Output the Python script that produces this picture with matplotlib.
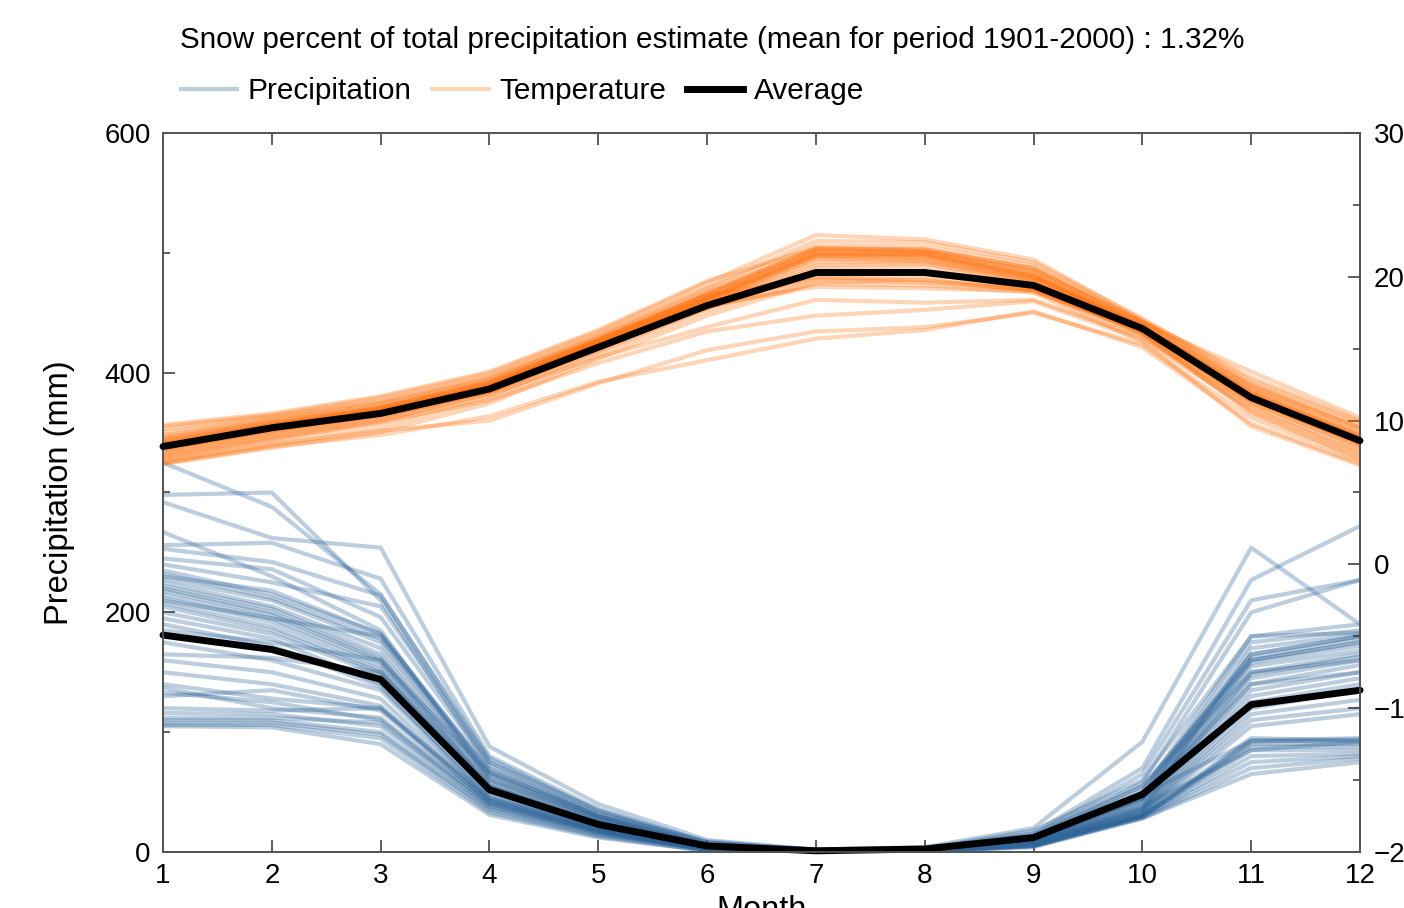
import matplotlib
matplotlib.use('Agg')
import matplotlib.pyplot as plt
from matplotlib.lines import Line2D
from matplotlib.ticker import MultipleLocator

plt.rcParams['font.family'] = ['Liberation Sans', 'DejaVu Sans']

months = list(range(1, 13))

# precipitation (mm) por año, meses 1-12
precip_years = [
    [325, 288, 215, 75, 35, 8, 2, 3, 18, 60, 180, 190],
    [298, 300, 210, 70, 32, 9, 1, 2, 15, 55, 160, 175],
    [292, 262, 254, 88, 40, 10, 2, 4, 20, 92, 254, 190],
    [267, 230, 185, 60, 28, 6, 1, 2, 12, 45, 140, 150],
    [256, 258, 228, 80, 36, 8, 2, 3, 16, 70, 227, 272],
    [253, 242, 214, 78, 34, 7, 1, 3, 14, 65, 210, 227],
    [245, 236, 196, 72, 30, 6, 1, 2, 13, 58, 200, 227],
    [235, 215, 182, 66, 30, 5, 1, 2, 12, 50, 180, 183],
    [232, 212, 178, 64, 28, 5, 1, 2, 11, 48, 165, 180],
    [228, 210, 175, 62, 27, 5, 1, 2, 11, 47, 162, 178],
    [225, 205, 170, 60, 26, 4, 0, 1, 10, 45, 160, 175],
    [222, 203, 165, 58, 25, 4, 0, 1, 10, 44, 158, 172],
    [220, 200, 162, 56, 24, 4, 0, 1, 9, 42, 155, 168],
    [218, 198, 160, 55, 24, 4, 0, 1, 9, 42, 150, 165],
    [215, 195, 158, 54, 23, 3, 0, 1, 9, 40, 148, 163],
    [212, 192, 155, 52, 22, 3, 0, 1, 8, 38, 145, 160],
    [208, 188, 152, 50, 22, 3, 0, 1, 8, 37, 140, 156],
    [205, 185, 150, 50, 21, 3, 0, 1, 8, 36, 135, 150],
    [200, 182, 148, 48, 20, 3, 0, 1, 8, 35, 130, 145],
    [195, 178, 140, 46, 20, 3, 0, 1, 7, 34, 125, 140],
    [190, 172, 138, 45, 19, 2, 0, 1, 7, 33, 120, 135],
    [175, 160, 135, 44, 19, 2, 0, 1, 7, 33, 115, 127],
    [160, 150, 128, 43, 18, 2, 0, 1, 7, 32, 110, 120],
    [150, 140, 122, 42, 18, 2, 0, 1, 6, 31, 105, 115],
    [137, 120, 112, 40, 17, 2, 0, 1, 6, 31, 95, 93],
    [133, 125, 110, 40, 17, 2, 0, 1, 6, 30, 93, 92],
    [130, 135, 118, 42, 18, 2, 0, 1, 6, 30, 92, 94],
    [120, 118, 120, 41, 17, 2, 0, 1, 6, 30, 90, 90],
    [116, 115, 105, 38, 16, 2, 0, 1, 5, 30, 88, 88],
    [112, 112, 108, 38, 16, 2, 0, 1, 5, 30, 85, 85],
    [110, 110, 100, 36, 15, 2, 0, 0, 5, 29, 80, 82],
    [108, 108, 98, 35, 14, 1, 0, 0, 5, 29, 75, 80],
    [106, 106, 95, 33, 13, 1, 0, 0, 5, 28, 70, 78],
    [105, 104, 90, 31, 12, 1, 0, 0, 4, 28, 65, 75],
    [140, 128, 120, 45, 20, 3, 0, 1, 7, 35, 170, 182],
    [185, 175, 160, 65, 28, 5, 1, 2, 10, 45, 175, 185],
    [230, 218, 182, 68, 30, 6, 1, 2, 12, 52, 165, 180],
    [240, 225, 205, 75, 32, 7, 1, 3, 13, 55, 150, 160],
    [210, 195, 180, 67, 30, 5, 1, 2, 12, 48, 93, 95],
    [165, 162, 150, 55, 24, 4, 0, 1, 9, 38, 85, 92],
]

# temperatura (C) por año, meses 1-12
temp_years = [
    [9.6, 10.4, 11.6, 13.3, 16.2, 19.6, 22.9, 22.6, 21.2, 17.0, 13.0, 10.0],
    [9.2, 10.2, 11.3, 13.0, 15.9, 19.2, 22.2, 22.1, 20.8, 16.9, 12.6, 9.7],
    [8.9, 10.0, 11.1, 12.8, 15.8, 19.0, 21.9, 21.8, 20.5, 16.8, 12.4, 9.5],
    [8.7, 9.9, 10.9, 12.6, 15.6, 18.8, 21.8, 21.7, 20.3, 16.6, 12.2, 9.2],
    [8.5, 9.7, 10.8, 12.5, 15.5, 18.6, 21.6, 21.5, 20.1, 16.5, 12.0, 9.0],
    [8.4, 9.6, 10.7, 12.4, 15.4, 18.5, 21.5, 21.4, 20.0, 16.6, 11.9, 8.9],
    [8.2, 9.5, 10.6, 12.3, 15.3, 18.4, 21.4, 21.3, 19.9, 16.4, 11.8, 8.8],
    [8.0, 9.4, 10.5, 12.2, 15.2, 18.3, 21.3, 21.2, 19.8, 16.5, 11.7, 8.6],
    [7.9, 9.2, 10.4, 12.1, 15.1, 18.2, 21.0, 21.0, 19.7, 16.3, 11.6, 8.5],
    [7.7, 9.0, 10.2, 12.0, 15.0, 18.1, 20.8, 20.9, 19.6, 16.4, 11.5, 8.3],
    [7.5, 8.8, 10.0, 11.9, 14.9, 18.0, 20.6, 20.7, 19.5, 16.2, 11.3, 8.1],
    [7.3, 8.6, 9.8, 11.7, 14.8, 17.8, 20.2, 20.4, 19.3, 16.1, 11.1, 7.9],
    [7.1, 8.3, 9.5, 11.5, 14.6, 17.6, 19.9, 20.0, 19.1, 16.0, 10.9, 7.6],
    [7.0, 8.1, 9.2, 11.2, 14.3, 17.3, 19.6, 19.8, 19.0, 15.9, 10.6, 7.3],
    [8.8, 9.9, 11.0, 12.7, 15.6, 18.7, 20.0, 19.7, 19.1, 16.3, 11.4, 8.4],
    [9.4, 10.3, 11.4, 13.1, 16.0, 19.3, 22.5, 22.4, 21.0, 17.1, 12.8, 9.9],
    [8.1, 9.3, 10.5, 12.3, 15.3, 18.0, 19.3, 19.2, 19.0, 16.2, 11.5, 8.7],
    [7.6, 8.9, 10.1, 11.8, 14.4, 16.5, 18.4, 18.2, 18.4, 15.8, 11.2, 8.2],
    [7.4, 8.7, 9.9, 11.4, 14.0, 16.2, 17.3, 17.7, 18.3, 15.6, 10.8, 7.8],
    [7.2, 8.4, 9.3, 10.0, 12.6, 14.9, 16.2, 16.5, 17.5, 15.3, 10.2, 7.2],
    [7.0, 8.2, 9.0, 10.3, 12.7, 14.2, 15.7, 16.3, 17.6, 15.1, 9.8, 7.0],
    [9.0, 10.1, 11.2, 12.9, 15.7, 18.9, 21.9, 21.9, 20.6, 16.7, 12.3, 9.4],
    [8.6, 9.8, 10.9, 12.6, 15.6, 18.7, 21.7, 21.6, 20.2, 16.5, 12.1, 9.1],
    [8.3, 9.5, 10.6, 12.4, 15.4, 18.5, 21.5, 21.5, 20.0, 16.6, 11.9, 8.9],
    [8.0, 9.3, 10.4, 12.2, 15.2, 18.3, 21.2, 21.1, 19.8, 16.4, 11.7, 8.6],
    [9.7, 10.5, 11.7, 13.4, 16.3, 19.7, 22.0, 21.8, 20.4, 16.8, 13.4, 10.2],
    [8.4, 9.7, 10.8, 12.5, 15.4, 18.4, 19.8, 19.6, 19.2, 16.1, 10.5, 7.5],
    [7.8, 9.1, 10.3, 12.0, 15.0, 17.9, 19.5, 19.4, 18.9, 15.5, 9.6, 6.9],
    [8.6, 9.7, 10.9, 12.7, 15.6, 18.8, 22.0, 21.9, 20.6, 16.9, 12.5, 9.5],
    [8.2, 9.6, 10.7, 12.4, 15.3, 18.5, 21.6, 21.6, 20.1, 16.5, 11.8, 8.8],
]

# medias del periodo
precip_avg = [181, 169, 144, 52, 23, 5, 1, 2.5, 12, 48, 123, 135]
temp_avg = [8.2, 9.5, 10.5, 12.2, 15.1, 18.0, 20.3, 20.3, 19.4, 16.4, 11.6, 8.6]

snow_pct = 1.32

blue = '#2f6599'
orange = '#ff6a00'

fig = plt.figure(figsize=(14.04, 9.08), dpi=100)
ax = fig.add_axes([163/1404, 1-852/908, (1360-163)/1404, (852-133)/908])
ax2 = ax.twinx()

for p in precip_years:
    ax.plot(months, p, color=blue, alpha=0.32, lw=3.0)
for t in temp_years:
    ax2.plot(months, t, color=orange, alpha=0.28, lw=3.0)

ax.plot(months, precip_avg, color='black', lw=5, solid_capstyle='round', zorder=5, clip_on=False)
ax2.plot(months, temp_avg, color='black', lw=5, solid_capstyle='round', zorder=5, clip_on=False)

ax.set_xlim(1, 12)
ax.set_ylim(0, 600)
ax2.set_ylim(-20, 30)
ax.set_xticks(months)
ax.yaxis.set_major_locator(MultipleLocator(200))
ax.yaxis.set_minor_locator(MultipleLocator(100))
ax2.yaxis.set_major_locator(MultipleLocator(10))
ax2.yaxis.set_minor_locator(MultipleLocator(5))

for a in (ax, ax2):
    for s in a.spines.values():
        s.set_color('#555555')
        s.set_linewidth(1.3)
ax.tick_params(axis='x', which='major', direction='in', length=8.6, width=1.1,
               top=True, labelsize=20, pad=8, color='#333333')
ax.tick_params(axis='y', which='major', direction='in', length=8.6, width=1.1,
               labelsize=20, pad=9, color='#333333')
ax.tick_params(axis='y', which='minor', direction='in', length=5, width=1.1, color='#333333')
ax2.tick_params(axis='y', which='major', direction='in', length=8.6, width=1.1,
                labelsize=20, pad=10, color='#333333')
ax2.tick_params(axis='y', which='minor', direction='in', length=5, width=1.1, color='#333333')

ax.set_xlabel('Month', fontsize=23.5, labelpad=4)
ax.set_ylabel('Precipitation (mm)', fontsize=23.5)
ax.yaxis.set_label_coords(-0.0735, 0.5)

fig.text(180/1404, 1-40/908,
         'Snow percent of total precipitation estimate (mean for period 1901-2000) : %.2f%%' % snow_pct,
         fontsize=21.4, va='center', ha='left')

handles = [
    Line2D([], [], color=blue, alpha=0.32, lw=3.0),
    Line2D([], [], color=orange, alpha=0.28, lw=3.0),
    Line2D([], [], color='black', lw=5),
]
fig.legend(handles, ['Precipitation', 'Temperature', 'Average'], loc='center left',
           bbox_to_anchor=(160/1404, 1-91/908), ncol=3, frameon=False, fontsize=21.4,
           handlelength=1.9, handletextpad=0.35, columnspacing=0.7, borderpad=0.2)

fig.savefig('out.png', dpi=100)
